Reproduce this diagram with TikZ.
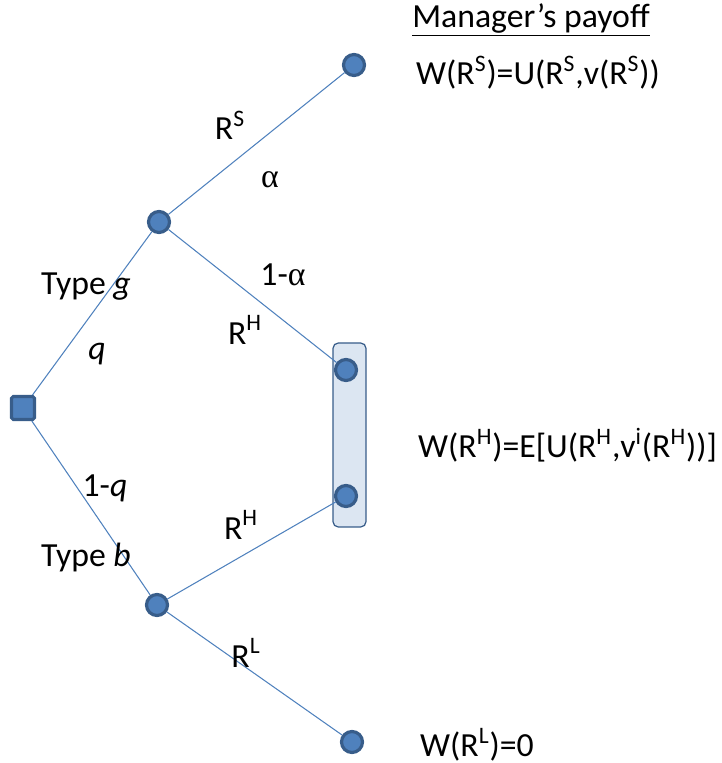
\documentclass[tikz,border=0pt]{standalone}
\usepackage{fontspec}
\setmainfont{Carlito}
\newfontfamily\greekfont{Liberation Serif}
\usepackage{tikz}
\usetikzlibrary{backgrounds}
\definecolor{nodefill}{HTML}{4F81BD}
\definecolor{nodeline}{HTML}{385D8A}
\definecolor{setfill}{HTML}{DCE6F2}
\tikzset{decision/.style={circle,fill=nodefill,draw=nodeline,line width=1.8pt,minimum size=0.42cm,inner sep=0pt},
 chance/.style={rectangle,fill=nodefill,draw=nodeline,line width=1.8pt,minimum size=0.46cm,inner sep=0pt,rounded corners=1pt},
 branch/.style={draw=nodefill,line width=0.6pt},
 infoset/.style={draw=nodeline,fill=setfill,line width=0.7pt,rounded corners=3pt},
 every node/.style={font=\fontsize{19.2}{23}\selectfont},
 }

\begin{document}
\begin{tikzpicture}
        \useasboundingbox (0,0) rectangle (14.44,15.26);
        \draw [infoset] (6.66, 4.72) rectangle (7.32, 8.40);
        \node [chance] (root) at (.46, 7.10) {};
        \node [decision] (good) at (3.18, 10.82) {};
        \node [decision] (bad) at (3.14, 3.16) {};
        \node [decision] (safe) at (7.08, 13.96) {};
        \node [decision] (highg) at (6.92, 7.86) {};
        \node [decision] (highb) at (6.92, 5.34) {};
        \node [decision] (low) at (7.04, .42) {};
        \draw [branch] (root) -- (good);
        \draw [branch] (root) -- (bad);
        \draw [branch] (good) -- (safe);
        \draw [branch] (good) -- (highg);
        \draw [branch] (bad) -- (highb);
        \draw [branch] (bad) -- (low);
        \node at (10.62, 14.86) {\underline{Manager’s payoff}};
        \node [anchor=west] at (8.2, 13.80) {W(R\textsuperscript{S})=U(R\textsuperscript{S},v(R\textsuperscript{S}))};
        \node [anchor=west] at (8.24, 6.36) {W(R\textsuperscript{H})=E[U(R\textsuperscript{H},v\textsuperscript{i}(R\textsuperscript{H}))]};
        \node [anchor=west] at (8.28, .36) {W(R\textsuperscript{L})=0};
        \node at (4.6, 12.76) {R\textsuperscript{S}};
        \node at (5.4, 11.66) {\greekfont α};
        \node at (5.66, 9.76) {1-{\greekfont α}};
        \node at (4.9, 8.66) {R\textsuperscript{H}};
        \node at (1.72, 9.52) {Type \textit{g}};
        \node at (1.94, 8.18) {\textit{q}};
        \node at (2.1, 5.50) {1-\textit{q}};
        \node at (4.82, 4.76) {R\textsuperscript{H}};
        \node at (1.72, 4.10) {Type \textit{b}};
        \node at (4.92, 2.20) {R\textsuperscript{L}};
    \end{tikzpicture}
\end{document}
